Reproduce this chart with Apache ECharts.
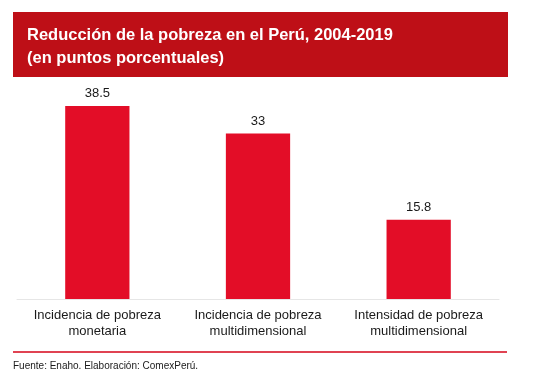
<!DOCTYPE html>
<html><head><meta charset="utf-8">
<script src="https://cdn.jsdelivr.net/npm/echarts@6/dist/echarts.min.js"></script>
<style>html,body{margin:0;padding:0;background:#fff}#c{width:546px;height:387px}</style>
</head><body><div id="c"></div>
<script>
var categories = ['Incidencia de pobreza\nmonetaria', 'Incidencia de pobreza\nmultidimensional', 'Intensidad de pobreza\nmultidimensional'];
var values = [38.5, 33, 15.8];
var titleLines = ['Reducción de la pobreza en el Perú, 2004-2019', '(en puntos porcentuales)'];
var sourceText = 'Fuente: Enaho. Elaboración: ComexPerú.';

var chart = echarts.init(document.getElementById('c'), null, {renderer: 'canvas'});
var F = '"Liberation Sans", Arial, sans-serif';
chart.setOption({
  animation: false,
  grid: {left: 17, right: 47, top: 98.5, bottom: 88},
  xAxis: {
    type: 'category', data: categories,
    axisLine: {lineStyle: {color: '#e6e6e6', width: 1}},
    axisTick: {show: false},
    axisLabel: {color: '#1a1a1a', fontSize: 13, fontFamily: F, lineHeight: 16, margin: 8, interval: 0}
  },
  yAxis: {type: 'value', min: 0, max: 40, show: false, splitLine: {show: false}},
  series: [{
    type: 'bar', data: values, barWidth: '40%',
    itemStyle: {color: '#e30d27'},
    label: {show: true, position: 'top', distance: 6, color: '#1a1a1a', fontSize: 13, fontFamily: F}
  }],
  graphic: [
    {type: 'rect', shape: {x: 13, y: 12, width: 495, height: 65}, style: {fill: '#be0f17'}, z: -1},
    {type: 'text', left: 27, top: 24, style: {text: titleLines.join('\n'), fill: '#fff', font: 'bold 16.5px ' + F, lineHeight: 23}},
    {type: 'rect', shape: {x: 13, y: 351, width: 494, height: 2}, style: {fill: '#e04352'}},
    {type: 'text', left: 13, top: 361, style: {text: sourceText, fill: '#1a1a1a', font: '10px ' + F}}
  ]
});
</script></body></html>
